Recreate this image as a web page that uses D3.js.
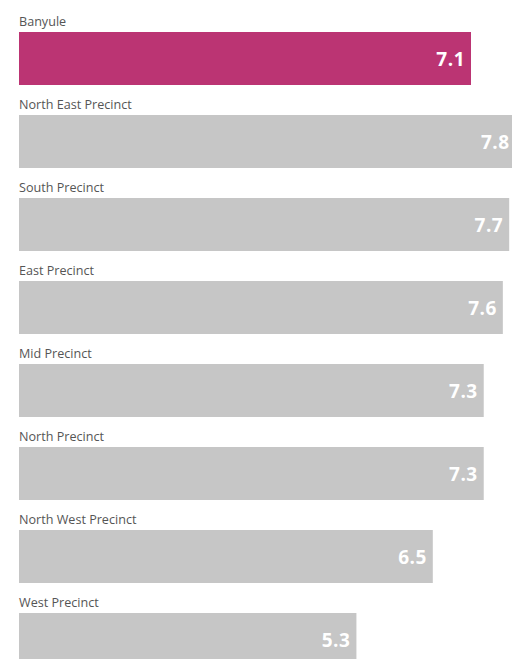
<!DOCTYPE html>
<html><head><meta charset="utf-8">
<script src="https://cdn.jsdelivr.net/npm/d3@7"></script>
<style>html,body{margin:0;padding:0;background:#fff;overflow:hidden;}</style>
</head><body>
<svg id="chart" width="512" height="659"></svg>
<script>
const categories = ["Banyule","North East Precinct","South Precinct","East Precinct","Mid Precinct","North Precinct","North West Precinct","West Precinct"];
const values = [7.1,7.8,7.7,7.6,7.3,7.3,6.5,5.3];
const highlight = "Banyule";

const svg = d3.select("#chart");
const left = 19;
const x = d3.scaleLinear().domain([0, 7.1]).range([left, 471]);
const y = d3.scaleBand().domain(categories).range([32, 32 + 83*8]).paddingInner(0).paddingOuter(0);
const barH = 53;

const g = svg.selectAll("g.row").data(categories).join("g").attr("class","row");
g.append("text")
  .attr("x", left)
  .attr("y", d => y(d) - 6)
  .attr("font-family", "Open Sans, sans-serif")
  .attr("font-size", 12.6)
  .attr("fill", "#555")
  .text(d => d);
g.append("rect")
  .attr("x", x(0))
  .attr("y", d => y(d))
  .attr("width", (d,i) => x(values[i]) - x(0))
  .attr("height", barH)
  .attr("fill", d => d === highlight ? "#bb3473" : "#c6c6c6");
g.append("text")
  .attr("x", (d,i) => x(values[i]) - 6)
  .attr("y", d => y(d) + barH/2 + 7)
  .attr("text-anchor", "end")
  .attr("font-family", "Open Sans, sans-serif")
  .attr("font-weight", "bold")
  .attr("font-size", 19)
  .attr("letter-spacing", 0.5)
  .attr("fill", "#fff")
  .text((d,i) => d3.format(".1f")(values[i]));
</script>
</body></html>
